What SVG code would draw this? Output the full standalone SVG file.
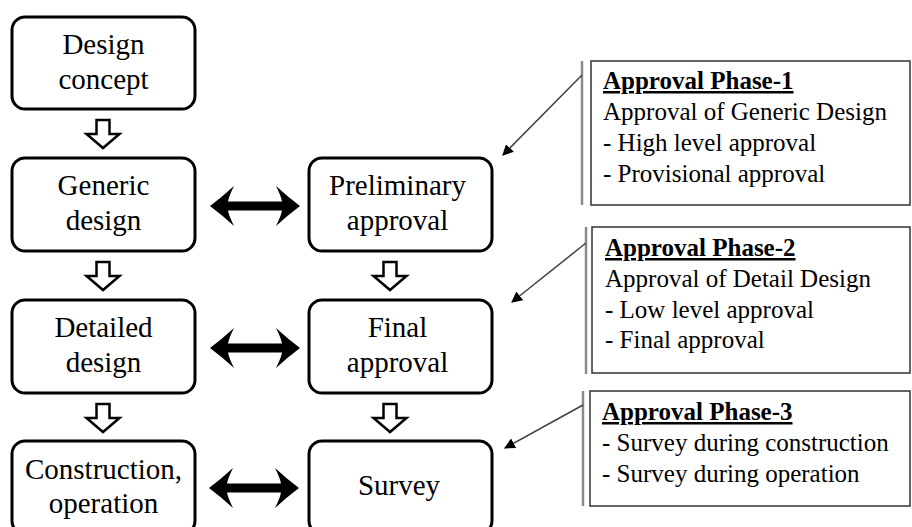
<svg xmlns="http://www.w3.org/2000/svg" width="912" height="527" viewBox="0 0 912 527">
  <defs>
    <style>
      .node rect { fill: #fff; stroke: #000; stroke-width: 3; }
      .node text { font-family: 'Liberation Serif', 'Times New Roman', 'DejaVu Serif', serif; font-size: 29px; fill: #000; text-anchor: middle; }
      .step { fill: #fff; stroke: #000; stroke-width: 2.5; stroke-linejoin: miter; }
      .link { fill: #000; }
      .note rect { fill: #fff; stroke: #333; stroke-width: 1.5; }
      .note .bar { stroke: #8a8a8a; stroke-width: 2.5; }
      .note text { font-family: 'Liberation Serif', 'Times New Roman', 'DejaVu Serif', serif; font-size: 25px; fill: #000; }
      .note .title { font-weight: bold; text-decoration: underline; }
      .pointer { stroke: #404040; stroke-width: 1.5; fill: none; marker-end: url(#tip); }
    </style>
    <marker id="tip" viewBox="0 0 10 10" refX="9" refY="5" markerWidth="11" markerHeight="11" markerUnits="userSpaceOnUse" orient="auto">
      <path d="M0,0 L10,5 L0,10 Z" fill="#000"/>
    </marker>
    <!-- hollow downward step arrow, origin at top centre -->
    <path id="down" d="M-6.5,0 H6.5 V14 H16.5 L0,28 L-16.5,14 H-6.5 Z"/>
    <!-- bold two-headed arrow, origin at left tip -->
    <path id="both" d="M0,0 Q12,-9 24,-20 Q19,-10 18,-4.5 H72 Q71,-10 66,-20 Q78,-9 90,0 Q78,9 66,20 Q71,10 72,4.5 H18 Q19,10 24,20 Q12,9 0,0 Z"/>
  </defs>

  <!-- left column -->
  <g id="design-concept" class="node">
    <rect x="12" y="17" width="183" height="92" rx="13"/>
    <text x="103.5" y="54">Design</text>
    <text x="103.5" y="89">concept</text>
  </g>
  <g id="generic-design" class="node">
    <rect x="12" y="158" width="183" height="93" rx="13"/>
    <text x="103.5" y="195">Generic</text>
    <text x="103.5" y="230">design</text>
  </g>
  <g id="detailed-design" class="node">
    <rect x="12" y="300" width="183" height="93" rx="13"/>
    <text x="103.5" y="337">Detailed</text>
    <text x="103.5" y="372">design</text>
  </g>
  <g id="construction-operation" class="node">
    <rect x="12" y="441" width="183" height="93" rx="13"/>
    <text x="103.5" y="479">Construction,</text>
    <text x="103.5" y="513">operation</text>
  </g>

  <!-- right column -->
  <g id="preliminary-approval" class="node">
    <rect x="309" y="158" width="183" height="93" rx="13"/>
    <text x="397.5" y="195">Preliminary</text>
    <text x="397.5" y="230">approval</text>
  </g>
  <g id="final-approval" class="node">
    <rect x="309" y="300" width="183" height="93" rx="13"/>
    <text x="397.5" y="337">Final</text>
    <text x="397.5" y="372">approval</text>
  </g>
  <g id="survey" class="node">
    <rect x="309" y="441" width="183" height="93" rx="13"/>
    <text x="399" y="495">Survey</text>
  </g>

  <!-- approval phase notes -->
  <g id="phase-1" class="note">
    <line class="bar" x1="582" y1="61" x2="582" y2="205"/>
    <rect x="591" y="61" width="319" height="144"/>
    <text x="603" y="89" class="title">Approval Phase-1</text>
    <text x="603" y="120">Approval of Generic Design</text>
    <text x="603" y="151">- High level approval</text>
    <text x="603" y="182">- Provisional approval</text>
  </g>
  <g id="phase-2" class="note">
    <line class="bar" x1="586" y1="227" x2="586" y2="374"/>
    <rect x="592" y="227" width="318" height="146"/>
    <text x="605" y="256" class="title">Approval Phase-2</text>
    <text x="605" y="287">Approval of Detail Design</text>
    <text x="605" y="318">- Low level approval</text>
    <text x="605" y="348">- Final approval</text>
  </g>
  <g id="phase-3" class="note">
    <line class="bar" x1="583" y1="391" x2="583" y2="506"/>
    <rect x="590" y="391" width="320" height="115"/>
    <text x="602" y="420" class="title">Approval Phase-3</text>
    <text x="602" y="451">- Survey during construction</text>
    <text x="602" y="482">- Survey during operation</text>
  </g>

  <!-- connectors -->
  <g id="connectors">
    <use href="#down" class="step" x="103" y="120"/>
    <use href="#down" class="step" x="103" y="262"/>
    <use href="#down" class="step" x="103" y="404"/>
    <use href="#down" class="step" x="390" y="262"/>
    <use href="#down" class="step" x="390" y="404"/>

    <use href="#both" class="link" x="210" y="206"/>
    <use href="#both" class="link" x="210" y="348"/>
    <use href="#both" class="link" x="209" y="488"/>

    <line class="pointer" x1="582" y1="75" x2="503" y2="155"/>
    <line class="pointer" x1="586" y1="243" x2="512" y2="302"/>
    <line class="pointer" x1="583" y1="405" x2="505" y2="448"/>
  </g>
</svg>
